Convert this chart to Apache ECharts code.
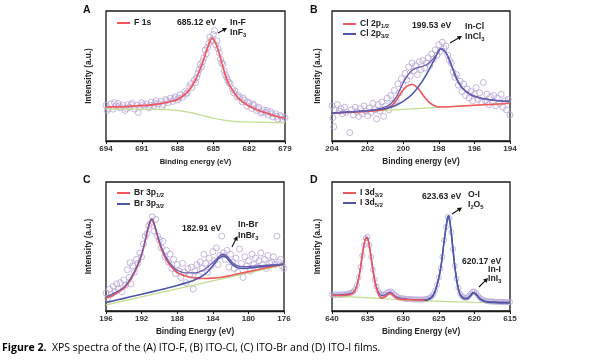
<!DOCTYPE html>
<html><head><meta charset="utf-8">
<script src="https://cdn.jsdelivr.net/npm/echarts@6/dist/echarts.min.js"></script>
<style>html,body{margin:0;padding:0;background:#fff}#c{width:600px;height:360px}</style>
</head><body><div id="c"></div>
<script>
// ---------- Panel A: F 1s ----------
const aTicks = [694, 691, 688, 685, 682, 679];
const aFit = [[694,26],[693,26.3],[692,26.7],[691,27.2],[690,28],[689,29.5],[688.5,30.6],[688,32],[687.5,35],[687,39.5],[686.5,47],[686,58],[685.7,66],[685.4,74],[685.1,79],[684.8,75],[684.5,67],[684.2,57],[683.9,48],[683.6,42],[683.2,36.5],[682.8,32],[682.3,28.5],[681.8,25.8],[681.2,23.5],[680.5,21.3],[680,19.8],[679.5,18.5],[679,17.5]];
const aBase = [[694,24.5],[692,24.5],[690,24.3],[688.5,24],[688,23.5],[687,22],[686,19.8],[685,17.5],[684,15.8],[683,14.9],[682,14.6],[681,14.4],[680,14.2],[679,14]];
const aPts = [[694,27.5],[693.8,25],[693.6,28.5],[693.4,24.5],[693.2,27],[693,29],[692.8,25.5],[692.6,27.5],[692.4,23.5],[692.2,28],[692,26],[691.8,29],[691.6,24.5],[691.4,27.5],[691.2,26],[691,29.5],[690.8,26.5],[690.6,28.5],[690.4,25.5],[690.2,30],[690,27],[689.8,31],[689.6,28.5],[689.4,30.5],[689.2,28],[689,32],[688.8,29.5],[688.6,33],[688.4,30.5],[688.2,34],[688,31.5],[687.8,35.5],[687.6,33.5],[687.4,38],[687.2,37],[687,42],[686.8,41],[686.6,47],[686.4,49],[686.2,55],[686,57],[685.8,64],[685.6,67],[685.4,75],[685.2,77],[685,82],[684.9,85],[684.8,74],[684.6,71],[684.4,63],[684.2,59],[684,51],[683.8,47],[683.6,44],[683.4,40],[683.2,38.5],[683,34],[682.8,33.5],[682.6,30],[682.4,31.5],[682.2,27],[682,29],[681.8,25],[681.6,27.5],[681.4,23.5],[681.2,26],[681,21.5],[680.8,24],[680.6,22],[680.4,20],[680.2,22.5],[680,18.5],[679.8,21],[679.6,17],[679.4,19.5],[679.2,16.5],[679,18],
  [693.9,23.5],[693.3,29.5],[692.9,27],[692.3,25],[691.9,27.8],[691.3,22],[690.9,28],[690.3,27.5],[689.9,29],[689.3,26.5],[688.9,31],[688.3,32.5],[687.9,33],[687.3,36],[686.9,44],[686.5,45],[686.3,52],[686.1,59],[685.9,61],[685.7,70],[685.5,72],[685.3,80],[685.1,78],[684.7,77],[684.5,68],[684.3,60],[684.1,54],[683.9,49],[683.7,45],[683.3,37],[682.9,35],[682.5,33],[682.1,30],[681.7,28.5],[681.3,25],[680.9,22.5],[680.5,23.5],[680.1,21],[679.7,19],[679.3,18.5]];

// ---------- Panel B: Cl 2p ----------
const bTicks = [204, 202, 200, 198, 196, 194];
const bP12 = [[204,21.3],[202,22.8],[201.5,23.3],[201,24.5],[200.7,26.5],[200.4,31],[200.1,37.5],[199.8,42],[199.5,43.5],[199.2,41],[198.9,35.5],[198.6,30.5],[198.3,27.5],[198,26.2],[197.5,26.3],[197,26.7],[196,27.5],[195,28.2],[194,29]];
const bP32 = [[204,21.5],[203,22.4],[202,23.3],[201.5,24],[201,25],[200.5,27],[200,30.5],[199.5,36],[199,44.5],[198.5,56],[198.2,64],[197.9,71],[197.6,68],[197.3,58.5],[197,48],[196.7,41],[196.3,36.5],[196,34.5],[195.5,32.5],[195,31.5],[194.5,30.8],[194,30.5]];
const bSum = [[204,21.5],[203,22.4],[202,23.4],[201.5,24.3],[201,26.2],[200.7,28.5],[200.4,33.5],[200.1,42],[199.8,49.5],[199.5,54.5],[199.2,56.5],[198.9,57.5],[198.6,59.5],[198.3,63.5],[198,68.5],[197.9,71],[197.6,68],[197.3,58.5],[197,48],[196.7,41],[196.3,36.5],[196,34.5],[195.5,32.5],[195,31.5],[194.5,30.8],[194,30.5]];
const bBase = [[204,21.3],[194,29]];
const bPts = [[204,27],[203.95,18],[203.9,11],[203.85,24],[203.7,28],[203.6,23],[203.5,25],[203.4,21],[203.3,26],[203.2,22],[203,6.5],[202.9,24],[202.8,20],[202.7,26],[202.6,22.5],[202.5,19],[202.4,25],[202.3,21],[202.2,27],[202.1,23],[202,19.5],[201.9,25.5],[201.8,22],[201.7,29],[201.6,24],[201.5,17],[201.4,28],[201.3,23],[201.2,30],[201.1,19],[201,27],[200.9,33],[200.8,24],[200.7,35],[200.6,29],[200.5,39],[200.4,31],[200.3,44],[200.2,37],[200.1,48],[200,43],[199.9,52],[199.8,47],[199.7,57],[199.6,50],[199.5,60],[199.4,54],[199.3,58],[199.2,51],[199.1,61],[199,55],[198.9,62],[198.8,56],[198.7,60],[198.6,64],[198.5,58],[198.4,67],[198.3,63],[198.2,70],[198.1,66],[198,74],[197.9,69],[197.8,76],[197.7,71],[197.6,73],[197.5,66],[197.4,62],[197.3,60],[197.2,53],[197.1,49],[197,51],[196.9,43],[196.8,46],[196.7,38],[196.6,44],[196.5,35],[196.4,40],[196.3,33],[196.2,38],[196.1,31],[196,36],[195.9,41],[195.8,32],[195.7,37],[195.6,30],[195.5,45],[195.4,31],[195.3,36],[195.2,28],[195.1,34],[195,30],[194.9,35],[194.8,27],[194.7,33],[194.6,29],[194.5,36],[194.4,26],[194.3,31],[194.2,24],[194.1,32],[194,20]];

// ---------- Panel C: Br 3p ----------
const cTicks = [196, 192, 188, 184, 180, 176];
const cP12 = [[196,9.8],[195,13],[194,17.5],[193.5,21.5],[193,27],[192.5,34],[192,43],[191.6,54],[191.3,63],[191,69.5],[190.85,70.5],[190.6,67],[190.3,60],[190,52.5],[189.6,45],[189.2,39.5],[188.8,35.5],[188.3,31.5],[187.8,29],[187,27],[186,25.7],[185,25.2],[184,25.5],[183,26.2],[182,27.5],[181,29],[180,30.5],[179,32],[178,33.5],[177,35],[176,36.3]];
const cP32 = [[196,6.5],[194,9.8],[192,13],[190,16.3],[188,19.8],[187,21.8],[186,24.2],[185,28],[184.5,31],[184,35],[183.5,39.5],[183.1,42],[182.8,42.5],[182.5,41.5],[182.1,38.5],[181.7,35.5],[181.2,33.5],[180.5,33],[180,33.3],[179,34],[178,34.8],[177,35.5],[176,36.2]];
const cSum = [[196,11],[195,14],[194,18.5],[193.5,22.5],[193,28],[192.5,35],[192,44],[191.6,55],[191.3,64],[191,70.5],[190.85,71.5],[190.6,68],[190.3,61],[190,54],[189.6,46.5],[189.2,41],[188.8,37],[188.3,33],[187.8,31],[187,29.5],[186,29.5],[185,32],[184.5,34.5],[184,37.5],[183.5,41],[183.1,43.5],[182.8,44],[182.5,43],[182.1,40],[181.7,37],[181.2,35],[180.5,34.3],[180,34.5],[179,35],[178,35.5],[177,36],[176,36.5]];
const cBase = [[196,4.7],[176,35.7]];
const cPts = [[196,14],[195.8,10],[195.6,17],[195.4,13],[195.2,19],[195,15],[194.8,21],[194.6,17],[194.4,22],[194.2,15],[194,24],[193.8,20],[193.6,32],[193.4,26],[193.3,37.5],[193.2,21],[193,35],[192.8,30],[192.6,40],[192.4,37],[192.2,45],[192,42],[191.8,52],[191.6,58],[191.4,60],[191.2,66],[191,68],[190.8,73],[190.6,62],[190.4,71],[190.2,58],[190,55],[189.8,49],[189.6,54],[189.4,42],[189.2,47],[189,38],[188.8,44],[188.6,33],[188.4,40],[188.2,29],[188,36],[187.8,31],[187.6,26],[187.4,37],[187.2,30],[187,22],[186.8,33],[186.6,28],[186.4,34],[186.2,17],[186,31],[185.8,36],[185.6,27],[185.4,38],[185.2,33],[185,44],[184.8,37],[184.6,30],[184.4,41],[184.2,35],[184,46],[183.8,39],[183.6,49],[183.4,36],[183.2,43],[183,58],[182.8,45],[182.6,40],[182.4,47],[182.2,34],[182,44],[181.8,38],[181.6,33],[181.4,41],[181.2,30],[181,48],[180.8,37],[180.6,26],[180.4,42],[180.2,35],[180,39],[179.8,31],[179.6,44],[179.4,36],[179.2,41],[179,34],[178.8,39],[178.6,45],[178.4,36],[178.2,40],[178,33],[177.8,43],[177.6,37],[177.4,38],[177.2,42],[177,36],[176.8,58],[176.6,38],[176.4,40],[176.2,35],[176,33]];

// ---------- Panel D: I 3d ----------
const dTicks = [640, 635, 630, 625, 620, 615];
const dP32 = [[640,12],[639,12],[638,12.2],[637.5,12.8],[637,14],[636.6,18],[636.3,24],[636,33],[635.8,41],[635.5,51],[635.2,56.5],[635,56],[634.8,51.5],[634.5,41],[634.2,29.5],[633.9,20.5],[633.6,15],[633.3,11],[633,10],[632.5,11],[632.2,12.5],[631.9,13.5],[631.6,13],[631.2,11],[630.8,9.5],[630,9],[629,8.7],[628,8.5],[627,8.3]];
const dP52 = [[627,8.3],[626.5,8.8],[626,10.5],[625.6,14],[625.2,21],[624.9,28],[624.6,38],[624.3,52],[624,64],[623.8,71],[623.65,73.5],[623.5,71],[623.3,63],[623,47],[622.7,32],[622.4,21],[622.1,14],[621.8,11],[621.4,9.5],[621,9.5],[620.6,11.5],[620.3,13.5],[620.1,14],[619.8,13],[619.4,10.5],[619,8.5],[618.5,7.2],[618,6.8],[617,6.5],[616,6.3],[615,6.2]];
const dSum = [[640,12.5],[639,12.5],[638,12.8],[637.5,13.4],[637,14.6],[636.6,18.5],[636.3,24.5],[636,33.5],[635.8,41.5],[635.5,51.5],[635.2,57],[635,56.5],[634.8,52],[634.5,41.5],[634.2,30.5],[633.9,22],[633.6,16.5],[633.3,13],[633,12],[632.5,12.5],[632.2,13.8],[631.9,14.5],[631.6,14],[631.2,12],[630.8,10.5],[630,9.5],[629,9],[628,8.8],[627,8.8],[626.5,9.3],[626,11],[625.6,14.5],[625.2,21.5],[624.9,28.5],[624.6,38.5],[624.3,52.5],[624,64.5],[623.8,71.5],[623.65,74],[623.5,71.5],[623.3,63.5],[623,47.5],[622.7,32.5],[622.4,21.5],[622.1,14.5],[621.8,11.5],[621.4,10],[621,10],[620.6,12],[620.3,14],[620.1,14.5],[619.8,13.5],[619.4,11],[619,9],[618.5,7.7],[618,7.3],[617,7],[616,6.8],[615,6.7]];
const dBase = [[640,11.6],[636,10.5],[632,9.3],[627.6,8],[622,7],[615,6]];
const dPts = [[640,12.8],[639.75,12.2],[639.5,13],[639.25,12.4],[639,12.9],[638.75,12.3],[638.5,13.1],[638.25,12.6],[638,13.2],[637.75,13],[637.5,13.9],[637.25,14.3],[637,15.2],[636.75,16.8],[636.5,20],[636.25,26],[636,34],[635.75,43],[635.5,51],[635.25,56.5],[635,57.5],[634.75,51],[634.5,42],[634.25,32],[634,24.5],[633.75,19],[633.5,15.5],[633.25,13.5],[633,12.5],[632.75,12.8],[632.5,13.2],[632.25,14.5],[632,15],[631.75,15.2],[631.5,14.3],[631.25,12.8],[631,11.8],[630.75,10.8],[630.5,10.2],[630.25,9.8],[630,9.9],[629.75,9.3],[629.5,9.6],[629.25,9.1],[629,9.4],[628.75,9],[628.5,9.2],[628.25,8.8],[628,9.1],[627.75,8.7],[627.5,9],[627.25,8.8],[627,9.2],[626.75,9.1],[626.5,9.6],[626.25,10.3],[626,11.3],[625.75,13],[625.5,16],[625.25,20.5],[625,26],[624.75,33],[624.5,42],[624.25,55],[624,65],[623.75,73],[623.5,72],[623.25,61],[623,48],[622.75,35],[622.5,25],[622.25,18],[622,13.5],[621.75,11.5],[621.5,10.5],[621.25,10.2],[621,10.5],[620.75,11.8],[620.5,13.5],[620.25,15],[620,15.2],[619.75,14],[619.5,12],[619.25,10.3],[619,9.3],[618.75,8.6],[618.5,8.1],[618.25,7.8],[618,7.6],[617.75,7.3],[617.5,7.5],[617.25,7.1],[617,7.3],[616.75,7],[616.5,7.2],[616.25,6.9],[616,7.1],[615.75,6.8],[615.5,7],[615.25,6.7],[615,6.9]];

// ---------- chart ----------
const RED = '#f0585d', BLUE = '#4d56a8', GREEN = '#c3dd8e', CIRC = '#b8a5d6', ENV = '#6a5cae', INK = '#222';
const FONT = 'Liberation Sans';
const chart = echarts.init(document.getElementById('c'), null, {renderer: 'canvas'});

const grids = [
  {left: 106, top: 11, width: 179, height: 130},
  {left: 332, top: 11, width: 178, height: 130},
  {left: 106, top: 182, width: 178, height: 129},
  {left: 332, top: 182, width: 178, height: 129}
].map(g => Object.assign(g, {show: true, borderColor: '#1a1a1a', borderWidth: 1.3, backgroundColor: 'transparent'}));

const axisDefs = [
  {ticks: aTicks, name: 'Binding energy (eV)', nameSize: 7.6},
  {ticks: bTicks, name: 'Binding energy (eV)', nameSize: 8.2},
  {ticks: cTicks, name: 'Binding Energy (eV)', nameSize: 8.2},
  {ticks: dTicks, name: 'Binding Energy (eV)', nameSize: 8.2}
];
const xAxes = axisDefs.map((d, i) => {
  const t = d.ticks;
  const lo = Math.min(...t), hi = Math.max(...t);
  return {
    type: 'value', gridIndex: i, inverse: true, min: lo, max: hi, interval: (hi - lo) / (t.length - 1),
    name: d.name, nameLocation: 'middle', nameGap: 17,
    nameTextStyle: {fontFamily: FONT, fontWeight: 'bold', fontSize: d.nameSize, color: INK},
    axisLine: {show: true, lineStyle: {color: '#1a1a1a', width: 1.3}},
    axisTick: {show: true, inside: false, length: 3, lineStyle: {color: '#1a1a1a', width: 1}},
    axisLabel: {fontFamily: FONT, fontWeight: 'bold', fontSize: 8, color: '#333', margin: 4},
    splitLine: {show: false}
  };
});
const yGaps = [13, 10, 13, 10];
const yAxes = [0,1,2,3].map(i => ({
  type: 'value', gridIndex: i, min: 0, max: 100,
  name: 'Intensity (a.u.)', nameLocation: 'middle', nameGap: yGaps[i], nameRotate: 90,
  nameTextStyle: {fontFamily: FONT, fontWeight: 'bold', fontSize: 8.2, color: INK},
  axisLine: {show: false}, axisTick: {show: false}, axisLabel: {show: false}, splitLine: {show: false}
}));

function line(name, data, color, idx, w) {
  return {name: name, type: 'line', xAxisIndex: idx, yAxisIndex: idx, data: data, symbol: 'none',
    smooth: 0.35, lineStyle: {color: color, width: w || 1.6}, itemStyle: {color: color}, z: 3, silent: true, animation: false};
}
function pts(data, idx, size) {
  return {type: 'scatter', xAxisIndex: idx, yAxisIndex: idx, data: data, symbol: 'circle', symbolSize: size,
    itemStyle: {color: 'rgba(255,255,255,0)', borderColor: CIRC, borderWidth: 1}, z: 2, silent: true, animation: false};
}

const series = [
  pts(aPts, 0, 6), line('', aBase, GREEN, 0, 1.2), line('F 1s', aFit, RED, 0, 1.7),
  pts(bPts, 1, 6), line('', bBase, GREEN, 1, 1.2), line('Cl 2p1/2', bP12, RED, 1), line('Cl 2p3/2', bP32, BLUE, 1), line('', bSum, ENV, 1, 1.3),
  pts(cPts, 2, 6), line('', cBase, GREEN, 2, 1.2), line('Br 3p1/2', cP12, RED, 2), line('Br 3p3/2', cP32, BLUE, 2), line('', cSum, ENV, 2, 1.3),
  pts(dPts, 3, 5), line('', dBase, GREEN, 3, 1.2), line('', dSum, ENV, 3, 1.3), line('I 3d3/2', dP32, RED, 3), line('I 3d5/2', dP52, BLUE, 3)
];

const rich = {
  m: {fontFamily: FONT, fontWeight: 'bold', fontSize: 8.6, color: INK},
  s: {fontFamily: FONT, fontWeight: 'bold', fontSize: 5.8, color: INK, padding: [5, 0, 0, 0]}
};
function fmt(name) {
  const m = name.match(/^(.*?)(\d\/\d)$/);
  return m ? '{m|' + m[1] + '}{s|' + m[2] + '}' : '{m|' + name + '}';
}
function txt(x, y, s) {
  return {type: 'text', left: x, top: y - 5, z: 10, style: {text: s, rich: rich, fill: INK,
    font: 'bold 8.4px ' + FONT}, silent: true};
}
function legItem(x, y, color, name) {
  return [
    {type: 'line', shape: {x1: x, y1: y, x2: x + 13, y2: y}, style: {stroke: color, lineWidth: 2}, z: 10, silent: true},
    txt(x + 17, y, fmt(name))
  ];
}
function arrow(x1, y1, x2, y2) {
  const ang = Math.atan2(y2 - y1, x2 - x1), L = 4.5, W = 2.4;
  const bx = x2 - L * Math.cos(ang), by = y2 - L * Math.sin(ang);
  const px = -Math.sin(ang) * W, py = Math.cos(ang) * W;
  return [
    {type: 'line', shape: {x1: x1, y1: y1, x2: bx, y2: by}, style: {stroke: '#111', lineWidth: 1.1}, z: 10, silent: true},
    {type: 'polygon', shape: {points: [[x2, y2], [bx + px, by + py], [bx - px, by - py]]}, style: {fill: '#111'}, z: 10, silent: true}
  ];
}
const graphic = [
  {type: 'text', left: 83, top: 5, style: {text: 'A', font: 'bold 10.5px ' + FONT, fill: '#111'}},
  {type: 'text', left: 310, top: 5, style: {text: 'B', font: 'bold 10.5px ' + FONT, fill: '#111'}},
  {type: 'text', left: 83, top: 175, style: {text: 'C', font: 'bold 10.5px ' + FONT, fill: '#111'}},
  {type: 'text', left: 310, top: 175, style: {text: 'D', font: 'bold 10.5px ' + FONT, fill: '#111'}},
  // legends
  ...legItem(117, 23, RED, 'F 1s'),
  ...legItem(343, 24, RED, 'Cl 2p1/2'), ...legItem(343, 34, BLUE, 'Cl 2p3/2'),
  ...legItem(117, 193, RED, 'Br 3p1/2'), ...legItem(117, 204, BLUE, 'Br 3p3/2'),
  ...legItem(343, 193, RED, 'I 3d3/2'), ...legItem(343, 203, BLUE, 'I 3d5/2'),
  // A annotations
  txt(177, 23, '{m|685.12 eV}'), txt(230, 23, '{m|In-F}'), txt(230, 33, '{m|InF}{s|3}'),
  ...arrow(218, 33, 227, 28),
  // B
  txt(412, 26, '{m|199.53 eV}'), txt(465, 27, '{m|In-Cl}'), txt(465, 37, '{m|InCl}{s|3}'),
  ...arrow(450, 43, 462, 36),
  // C
  txt(182, 229, '{m|182.91 eV}'), txt(238, 225, '{m|In-Br}'), txt(238, 236, '{m|InBr}{s|3}'),
  ...arrow(232, 247, 237.5, 236),
  // D
  txt(422, 197, '{m|623.63 eV}'), txt(468, 195, '{m|O-I}'), txt(468, 205, '{m|I}{s|2}{m|O}{s|5}'),
  ...arrow(452, 214, 462, 207.5),
  txt(462, 262, '{m|620.17 eV}'), txt(488, 270, '{m|In-I}'), txt(488, 279, '{m|InI}{s|3}'),
  ...arrow(479, 287, 488, 278),
  // caption
  {type: 'text', left: 2, top: 343, style: {
    text: '{b|Figure 2.}{r|  XPS spectra of the (A) ITO-F, (B) ITO-Cl, (C) ITO-Br and (D) ITO-I films.}',
    rich: {b: {fontFamily: 'Open Sans', fontWeight: 'bold', fontSize: 10.5, color: '#7d2323'},
           r: {fontFamily: 'Open Sans', fontSize: 10.5, color: '#222'}}}}
];

chart.setOption({
  animation: false,
  backgroundColor: '#fff',
  grid: grids, xAxis: xAxes, yAxis: yAxes, series: series, graphic: graphic
});
</script></body></html>
